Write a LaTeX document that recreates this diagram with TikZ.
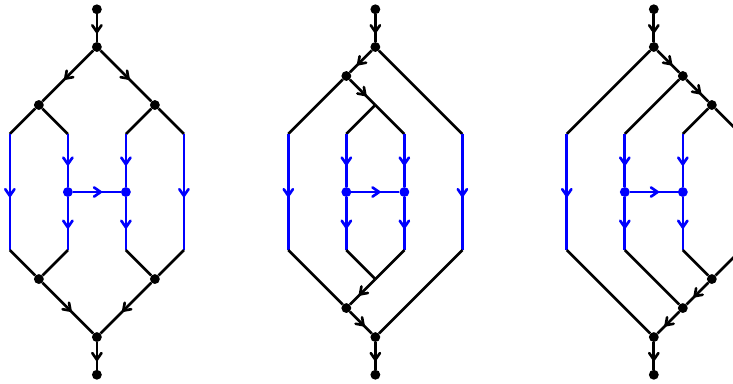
\documentclass[tikz,border=0pt]{standalone}
\usetikzlibrary{arrows.meta,decorations.markings}

\begin{document}
\begin{tikzpicture}[
    dot/.style={circle, fill=black, inner sep=0pt, minimum size=0.34cm},
    bdot/.style={circle, fill=blue, inner sep=0pt, minimum size=0.34cm},
    wire/.style={line width=2.6pt},
    bwire/.style={line width=2.6pt, blue},
    flow/.style={postaction={decorate}, decoration={markings,
        mark=at position 0.5 with {\arrow[xshift=5pt]{Straight Barb[length=6.5pt, width=9pt, round]}}}}
]
    \useasboundingbox (-3.34,-6.6) rectangle (21.93,6.62);
    \clip (-3.34,-6.6) rectangle (21.93,6.62);

    %%% first graph
    % Draw nodes
    \node[dot] (a0) at (0,6.3) {};
    \node[dot] (a1) at (0,5) {};
    \node[dot] (al) at (-2,3) {};
    \node[dot] (ar) at (2,3) {};
    \coordinate (au1) at (-3,2);
    \coordinate (au2) at (-1,2);
    \coordinate (au3) at (1,2);
    \coordinate (au4) at (3,2);
    \node[bdot] (ah1) at (-1,0) {};
    \node[bdot] (ah2) at (1,0) {};
    \coordinate (ad1) at (-3,-2);
    \coordinate (ad2) at (-1,-2);
    \coordinate (ad3) at (1,-2);
    \coordinate (ad4) at (3,-2);
    \node[dot] (aml) at (-2,-3) {};
    \node[dot] (amr) at (2,-3) {};
    \node[dot] (a2) at (0,-5) {};
    \node[dot] (a3) at (0,-6.3) {};

    % Draw connections
    \draw[wire, flow] (a0) -- (a1);
    \draw[wire, flow] (a1) -- (al);
    \draw[wire, flow] (a1) -- (ar);
    \draw[wire] (al) -- (au1);
    \draw[wire] (al) -- (au2);
    \draw[wire] (ar) -- (au3);
    \draw[wire] (ar) -- (au4);
    \draw[bwire, flow] (au1) -- (ad1);
    \draw[bwire, flow] (au2) -- (ah1);
    \draw[bwire, flow] (ah1) -- (ad2);
    \draw[bwire, flow] (au3) -- (ah2);
    \draw[bwire, flow] (ah2) -- (ad3);
    \draw[bwire, flow] (au4) -- (ad4);
    \draw[bwire, flow] (ah1) -- (ah2);
    \draw[wire] (ad1) -- (aml);
    \draw[wire] (ad2) -- (aml);
    \draw[wire] (ad3) -- (amr);
    \draw[wire] (ad4) -- (amr);
    \draw[wire, flow] (aml) -- (a2);
    \draw[wire, flow] (amr) -- (a2);
    \draw[wire, flow] (a2) -- (a3);

    %%% second graph
    \begin{scope}[xshift=9.6cm]
    % Draw nodes
    \node[dot] (b0) at (0,6.3) {};
    \node[dot] (b1) at (0,5) {};
    \node[dot] (bl) at (-1,4) {};
    \coordinate (bx) at (0,3);
    \coordinate (bu1) at (-3,2);
    \coordinate (bu2) at (-1,2);
    \coordinate (bu3) at (1,2);
    \coordinate (bu4) at (3,2);
    \node[bdot] (bh1) at (-1,0) {};
    \node[bdot] (bh2) at (1,0) {};
    \coordinate (bd1) at (-3,-2);
    \coordinate (bd2) at (-1,-2);
    \coordinate (bd3) at (1,-2);
    \coordinate (bd4) at (3,-2);
    \coordinate (by) at (0,-3);
    \node[dot] (bml) at (-1,-4) {};
    \node[dot] (b2) at (0,-5) {};
    \node[dot] (b3) at (0,-6.3) {};

    % Draw connections
    \draw[wire, flow] (b0) -- (b1);
    \draw[wire, flow] (b1) -- (bl);
    \draw[wire] (b1) -- (bu4);
    \draw[wire] (bl) -- (bu1);
    \draw[wire, flow] (bl) -- (bx);
    \draw[wire] (bx) -- (bu3);
    \draw[wire] (bx) -- (bu2);
    \draw[bwire, flow] (bu1) -- (bd1);
    \draw[bwire, flow] (bu2) -- (bh1);
    \draw[bwire, flow] (bh1) -- (bd2);
    \draw[bwire, flow] (bu3) -- (bh2);
    \draw[bwire, flow] (bh2) -- (bd3);
    \draw[bwire, flow] (bu4) -- (bd4);
    \draw[bwire, flow] (bh1) -- (bh2);
    \draw[wire] (bd2) -- (by);
    \draw[wire] (bd3) -- (by);
    \draw[wire, flow] (by) -- (bml);
    \draw[wire] (bd1) -- (bml);
    \draw[wire, flow] (bml) -- (b2);
    \draw[wire] (bd4) -- (b2);
    \draw[wire, flow] (b2) -- (b3);
    \end{scope}

    %%% third graph
    \begin{scope}[xshift=19.2cm]
    % Draw nodes
    \node[dot] (c0) at (0,6.3) {};
    \node[dot] (c1) at (0,5) {};
    \node[dot] (cr1) at (1,4) {};
    \node[dot] (cr2) at (2,3) {};
    \coordinate (cu1) at (-3,2);
    \coordinate (cu2) at (-1,2);
    \coordinate (cu3) at (1,2);
    \coordinate (cu4) at (3,2);
    \node[bdot] (ch1) at (-1,0) {};
    \node[bdot] (ch2) at (1,0) {};
    \coordinate (cd1) at (-3,-2);
    \coordinate (cd2) at (-1,-2);
    \coordinate (cd3) at (1,-2);
    \coordinate (cd4) at (3,-2);
    \node[dot] (cm2) at (2,-3) {};
    \node[dot] (cm1) at (1,-4) {};
    \node[dot] (c2) at (0,-5) {};
    \node[dot] (c3) at (0,-6.3) {};

    % Draw connections
    \draw[wire, flow] (c0) -- (c1);
    \draw[wire] (c1) -- (cu1);
    \draw[wire, flow] (c1) -- (cr1);
    \draw[wire] (cr1) -- (cu2);
    \draw[wire, flow] (cr1) -- (cr2);
    \draw[wire] (cr2) -- (cu3);
    \draw[wire] (cr2) -- (cu4);
    \draw[bwire, flow] (cu1) -- (cd1);
    \draw[bwire, flow] (cu2) -- (ch1);
    \draw[bwire, flow] (ch1) -- (cd2);
    \draw[bwire, flow] (cu3) -- (ch2);
    \draw[bwire, flow] (ch2) -- (cd3);
    \draw[bwire, flow] (cu4) -- (cd4);
    \draw[bwire, flow] (ch1) -- (ch2);
    \draw[wire] (cd4) -- (cm2);
    \draw[wire] (cd3) -- (cm2);
    \draw[wire, flow] (cm2) -- (cm1);
    \draw[wire] (cd2) -- (cm1);
    \draw[wire, flow] (cm1) -- (c2);
    \draw[wire] (cd1) -- (c2);
    \draw[wire, flow] (c2) -- (c3);
    \end{scope}
\end{tikzpicture}
\end{document}
